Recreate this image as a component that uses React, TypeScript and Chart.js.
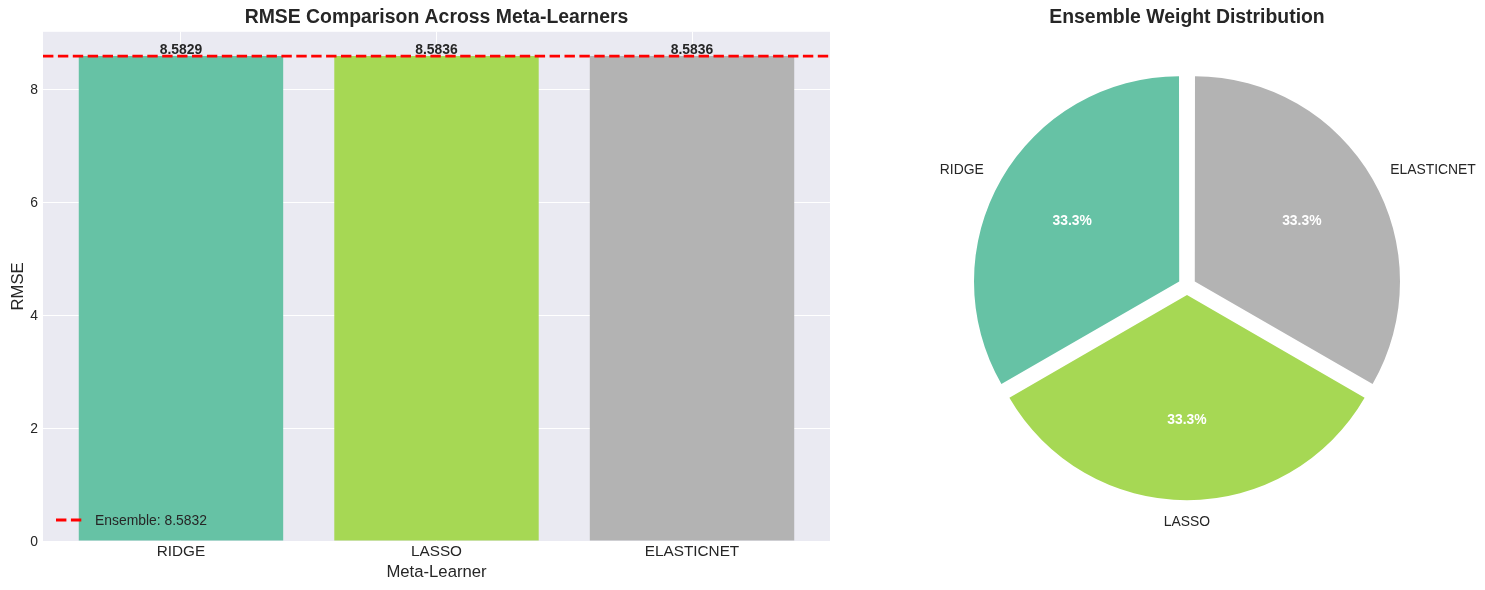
import React, { useEffect, useRef } from "react";
import { Chart, registerables } from "chart.js";

Chart.register(...registerables);

const categories = ["RIDGE", "LASSO", "ELASTICNET"];
const rmseValues = [8.5829, 8.5836, 8.5836];
const ensembleRmse = 8.5832;
const weights = [0.3333, 0.3333, 0.3333];
const colors = ["#66c2a5", "#a6d854", "#b3b3b3"];
const yTicks = [0, 2, 4, 6, 8];
const yMax = 9.0128;
const xMin = -0.54;
const xMax = 2.54;

const FONT = "'Liberation Sans', Arial, Helvetica, sans-serif";
const TEXT = "#262626";

// desired explode distance (px) and Chart.js arc "offset" option producing it
const PIE_RADIUS = 204;
const EXPLODE = 10.2;
const SLICE_ANGLE = (2 * Math.PI) / weights.length;
const ARC_OFFSET = (EXPLODE * 4) / (2 - Math.sin(Math.min(Math.PI, SLICE_ANGLE)));

const barOverlay = {
  id: "barOverlay",
  beforeDraw(chart: any) {
    const { ctx, chartArea: a } = chart;
    ctx.save();
    ctx.fillStyle = "#eaeaf2";
    ctx.fillRect(a.left, a.top, a.right - a.left, a.bottom - a.top);
    ctx.restore();
  },
  afterDatasetsDraw(chart: any) {
    const { ctx, chartArea: a } = chart;
    const yScale = chart.scales.y;
    const meta = chart.getDatasetMeta(0);
    ctx.save();
    ctx.fillStyle = TEXT;
    ctx.font = `bold 13.9px ${FONT}`;
    ctx.textAlign = "center";
    ctx.textBaseline = "alphabetic";
    meta.data.forEach((bar: any, i: number) => {
      ctx.fillText(rmseValues[i].toFixed(4), bar.x, bar.y - 2);
    });
    const yy = yScale.getPixelForValue(ensembleRmse);
    ctx.beginPath();
    ctx.rect(a.left, a.top, a.right - a.left, a.bottom - a.top);
    ctx.clip();
    ctx.strokeStyle = "#ff0000";
    ctx.lineWidth = 2.8;
    ctx.setLineDash([10.4, 4.5]);
    ctx.beginPath();
    ctx.moveTo(a.left, yy);
    ctx.lineTo(a.right, yy);
    ctx.stroke();
    const ly = 520;
    ctx.beginPath();
    ctx.moveTo(56, ly);
    ctx.lineTo(84, ly);
    ctx.stroke();
    ctx.setLineDash([]);
    ctx.fillStyle = TEXT;
    ctx.font = `13.9px ${FONT}`;
    ctx.textAlign = "left";
    ctx.fillText(`Ensemble: ${ensembleRmse.toFixed(4)}`, 95, ly + 5);
    ctx.restore();
  },
  afterDraw(chart: any) {
    const { ctx, chartArea: a } = chart;
    ctx.save();
    ctx.fillStyle = TEXT;
    ctx.textAlign = "center";
    ctx.textBaseline = "alphabetic";
    ctx.font = `bold 19.4px ${FONT}`;
    ctx.fillText("RMSE Comparison Across Meta-Learners", (a.left + a.right) / 2, 23);
    ctx.font = `16.7px ${FONT}`;
    ctx.fillText("Meta-Learner", (a.left + a.right) / 2, 577);
    ctx.translate(22.5, (a.top + a.bottom) / 2);
    ctx.rotate(-Math.PI / 2);
    ctx.fillText("RMSE", 0, 0);
    ctx.restore();
  },
};

const pieOverlay = {
  id: "pieOverlay",
  afterDraw(chart: any) {
    const { ctx, chartArea: a } = chart;
    const meta = chart.getDatasetMeta(0);
    const ds = chart.data.datasets[0];
    const labels = chart.data.labels;
    const total = ds.data.reduce((s: number, v: number) => s + v, 0);
    ctx.save();
    meta.data.forEach((arc: any, i: number) => {
      const p = arc.getProps(["x", "y", "startAngle", "endAngle", "outerRadius"]);
      const mid = (p.startAngle + p.endAngle) / 2;
      const circ = p.endAngle - p.startAngle;
      const off = ((ds.offset || 0) / 4) * (2 - Math.sin(Math.min(Math.PI, circ)));
      const c = Math.cos(mid);
      const s = Math.sin(mid);
      const rl = off + 1.1 * p.outerRadius;
      const lx = p.x + rl * c;
      const ly = p.y + rl * s;
      ctx.fillStyle = TEXT;
      ctx.font = `13.9px ${FONT}`;
      ctx.textAlign = Math.abs(c) < 1e-6 ? "center" : c > 0 ? "left" : "right";
      ctx.textBaseline = "alphabetic";
      ctx.fillText(labels[i], lx, ly + 5);
      const rp = off + 0.6 * p.outerRadius;
      ctx.fillStyle = "#ffffff";
      ctx.font = `bold 13.9px ${FONT}`;
      ctx.textAlign = "center";
      ctx.fillText(((ds.data[i] / total) * 100).toFixed(1) + "%", p.x + rp * c, p.y + rp * s + 5);
    });
    ctx.fillStyle = TEXT;
    ctx.font = `bold 19.4px ${FONT}`;
    ctx.textAlign = "center";
    ctx.fillText("Ensemble Weight Distribution", (a.left + a.right) / 2, 23);
    ctx.restore();
  },
};

export default function App() {
  const barRef = useRef<HTMLCanvasElement>(null);
  const pieRef = useRef<HTMLCanvasElement>(null);

  useEffect(() => {
    const tickFontY = { family: FONT, size: 13.9 };
    const tickFontX = { family: FONT, size: 15.3 };
    const bar = new Chart(barRef.current as HTMLCanvasElement, {
      type: "bar",
      data: {
        datasets: [
          {
            data: categories.map((_, i) => ({ x: i, y: rmseValues[i] })) as any,
            backgroundColor: colors,
            borderWidth: 0,
            barPercentage: 0.8,
            categoryPercentage: 1,
          },
        ],
      },
      options: {
        animation: false,
        responsive: false,
        events: [],
        layout: { padding: { top: 31.8, right: 20, left: 0, bottom: 0 } },
        plugins: { legend: { display: false }, tooltip: { enabled: false }, title: { display: false } },
        scales: {
          x: {
            type: "linear",
            offset: false,
            min: xMin,
            max: xMax,
            afterBuildTicks: (s: any) => {
              s.ticks = categories.map((_, i) => ({ value: i }));
            },
            afterFit: (s: any) => {
              s.height = 49;
            },
            ticks: {
              callback: (v: any) => categories[v as number] ?? "",
              font: tickFontX,
              color: TEXT,
              padding: 2,
              maxRotation: 0,
              autoSkip: false,
            },
            grid: { color: "#ffffff", lineWidth: 1, drawTicks: false, offset: false },
            border: { display: false },
          },
          y: {
            type: "linear",
            min: 0,
            max: yMax,
            afterBuildTicks: (s: any) => {
              s.ticks = yTicks.map((v) => ({ value: v }));
            },
            afterFit: (s: any) => {
              s.width = 43;
            },
            ticks: { font: tickFontY, color: TEXT, padding: 5, labelOffset: 1 },
            grid: { color: "#ffffff", lineWidth: 1, drawTicks: false },
            border: { display: false },
          },
        },
      } as any,
      plugins: [barOverlay],
    });

    const pie = new Chart(pieRef.current as HTMLCanvasElement, {
      type: "pie",
      data: {
        labels: [...categories].reverse(),
        datasets: [
          {
            data: [...weights].reverse(),
            backgroundColor: [...colors].reverse(),
            borderWidth: 0,
            offset: ARC_OFFSET,
            radius: PIE_RADIUS,
          } as any,
        ],
      },
      options: {
        animation: false,
        responsive: false,
        events: [],
        layout: { padding: { left: 60, right: 31, top: 42, bottom: 60 } },
        plugins: { legend: { display: false }, tooltip: { enabled: false }, title: { display: false } },
      } as any,
      plugins: [pieOverlay],
    });

    return () => {
      bar.destroy();
      pie.destroy();
    };
  }, []);

  return (
    <div style={{ position: "absolute", left: 0, top: 0, width: 1485, height: 590, background: "#ffffff" }}>
      <canvas ref={barRef} width={850} height={590} style={{ position: "absolute", left: 0, top: 0 }} />
      <canvas ref={pieRef} width={625} height={590} style={{ position: "absolute", left: 860, top: 0 }} />
    </div>
  );
}
